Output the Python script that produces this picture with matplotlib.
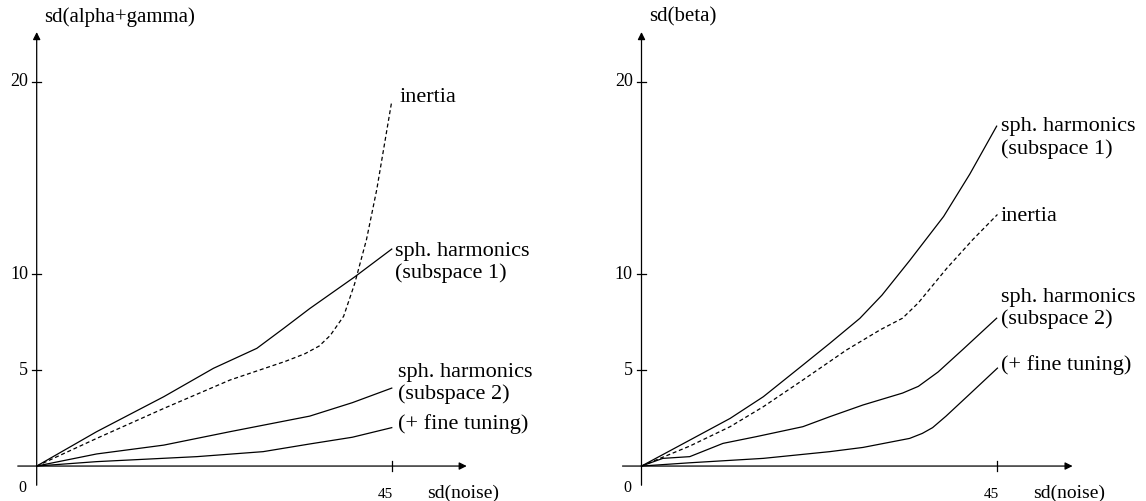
import matplotlib
matplotlib.use("Agg")
import matplotlib.pyplot as plt

plt.rcParams['font.family'] = ['Liberation Serif', 'DejaVu Serif']

# ---- left panel: sd(alpha+gamma) vs sd(noise)
l_inertia_x = [0, 7.6, 16.1, 24.5, 31.5, 34.0, 35.8, 37.2, 38.9, 40.3, 41.8, 43.1, 45]
l_inertia_y = [0, 1.44, 3.0, 4.48, 5.45, 5.85, 6.25, 6.8, 7.8, 9.5, 11.8, 14.4, 19.0]
l_sub1_x = [0, 7.6, 16.1, 22.4, 27.9, 31.3, 34.6, 40.3, 45]
l_sub1_y = [0, 1.79, 3.61, 5.09, 6.13, 7.17, 8.2, 9.85, 11.3]
l_sub2_x = [0, 7.6, 16.1, 24.5, 34.6, 40, 45]
l_sub2_y = [0, 0.63, 1.09, 1.79, 2.6, 3.3, 4.06]
l_fine_x = [0, 7.6, 20.3, 28.7, 34.6, 40, 45]
l_fine_y = [0, 0.23, 0.49, 0.75, 1.15, 1.5, 2.0]

# ---- right panel: sd(beta) vs sd(noise)
r_sub1_x = [0, 6.1, 11.2, 15.4, 20.4, 23.8, 27.6, 30.4, 33.9, 38.2, 41.5, 44.9]
r_sub1_y = [0, 1.35, 2.48, 3.61, 5.26, 6.39, 7.69, 8.9, 10.7, 13.0, 15.2, 17.7]
r_inertia_x = [0, 6.1, 11.2, 15.4, 20.4, 25.9, 30.2, 33.0, 35.0, 38.6, 41.9, 45]
r_inertia_y = [0, 1.04, 2.05, 3.09, 4.48, 6.04, 7.1, 7.7, 8.5, 10.3, 11.8, 13.1]
r_sub2_x = [0, 2.7, 6.1, 10.3, 14.5, 20.4, 23.8, 28.0, 33.0, 35.0, 37.5, 40.7, 44.9]
r_sub2_y = [0, 0.4, 0.49, 1.18, 1.53, 2.05, 2.57, 3.18, 3.8, 4.15, 4.9, 6.1, 7.7]
r_fine_x = [0, 6.1, 15.4, 23.8, 28.0, 33.9, 35.5, 36.8, 38.5, 41.5, 45]
r_fine_y = [0, 0.17, 0.4, 0.75, 0.97, 1.44, 1.7, 2.0, 2.6, 3.75, 5.1]

y_ticks = [5, 10, 20]
x_tick = 45

fig = plt.figure(figsize=(11.46, 5.01), dpi=100)
axl = fig.add_axes([0, 0, 0.5, 1])
axr = fig.add_axes([0.5, 0, 0.5, 1])

lw = 0.9
arrow = dict(arrowstyle='-|>', lw=lw, color='black', mutation_scale=11,
             shrinkA=0, shrinkB=0)


def draw_axes(ax, ylabel, xmin, xmax):
    ax.set_xlim(xmin, xmax)
    ax.set_ylim(-1.82, 24.27)
    ax.axis('off')
    ax.annotate('', xy=(54.5, 0), xytext=(-2.4, 0), arrowprops=arrow)
    ax.annotate('', xy=(0, 22.6), xytext=(0, -1.0), arrowprops=arrow)
    for t in y_ticks:
        ax.plot([-0.6, 0.6], [t, t], color='black', lw=lw)
        ax.text(-1.1, t, str(t), ha='right', va='center', fontsize=13)
    ax.plot([x_tick, x_tick], [-0.28, 0.28], color='black', lw=lw)
    ax.text(44.2, -1.5, str(x_tick), ha='center', va='center', fontsize=11)
    ax.text(-1.3, -1.15, '0', ha='right', va='center', fontsize=11.5)
    ax.text(49.5, -1.4, 'sd(noise)', ha='left', va='center', fontsize=14)
    ax.text(1.0, 23.4, ylabel, ha='left', va='center', fontsize=15)


draw_axes(axl, 'sd(alpha+gamma)', -4.65, 67.97)
draw_axes(axr, 'sd(beta)', -8.66, 63.78)

axl.plot(l_inertia_x, l_inertia_y, color='black', lw=lw, dashes=(3.2, 2.2))
axl.plot(l_sub1_x, l_sub1_y, color='black', lw=lw)
axl.plot(l_sub2_x, l_sub2_y, color='black', lw=lw)
axl.plot(l_fine_x, l_fine_y, color='black', lw=lw)

axr.plot(r_sub1_x, r_sub1_y, color='black', lw=lw)
axr.plot(r_inertia_x, r_inertia_y, color='black', dashes=(3.2, 2.2), lw=lw)
axr.plot(r_sub2_x, r_sub2_y, color='black', lw=lw)
axr.plot(r_fine_x, r_fine_y, color='black', lw=lw)

fs = 16
ls = 1.2
axl.text(46.0, 19.2, 'inertia', fontsize=fs, va='center')
axl.text(45.4, 10.6, 'sph. harmonics\n(subspace 1)', fontsize=fs, va='center',
         linespacing=ls)
axl.text(45.8, 4.3, 'sph. harmonics\n(subspace 2)', fontsize=fs, va='center',
         linespacing=ls)
axl.text(45.8, 2.2, '(+ fine tuning)', fontsize=fs, va='center')

axr.text(45.4, 17.1, 'sph. harmonics\n(subspace 1)', fontsize=fs, va='center',
         linespacing=ls)
axr.text(45.4, 12.97, 'inertia', fontsize=fs, va='center')
axr.text(45.4, 8.2, 'sph. harmonics\n(subspace 2)', fontsize=fs, va='center',
         linespacing=ls)
axr.text(45.4, 5.26, '(+ fine tuning)', fontsize=fs, va='center')

fig.savefig('out.png', dpi=100)
